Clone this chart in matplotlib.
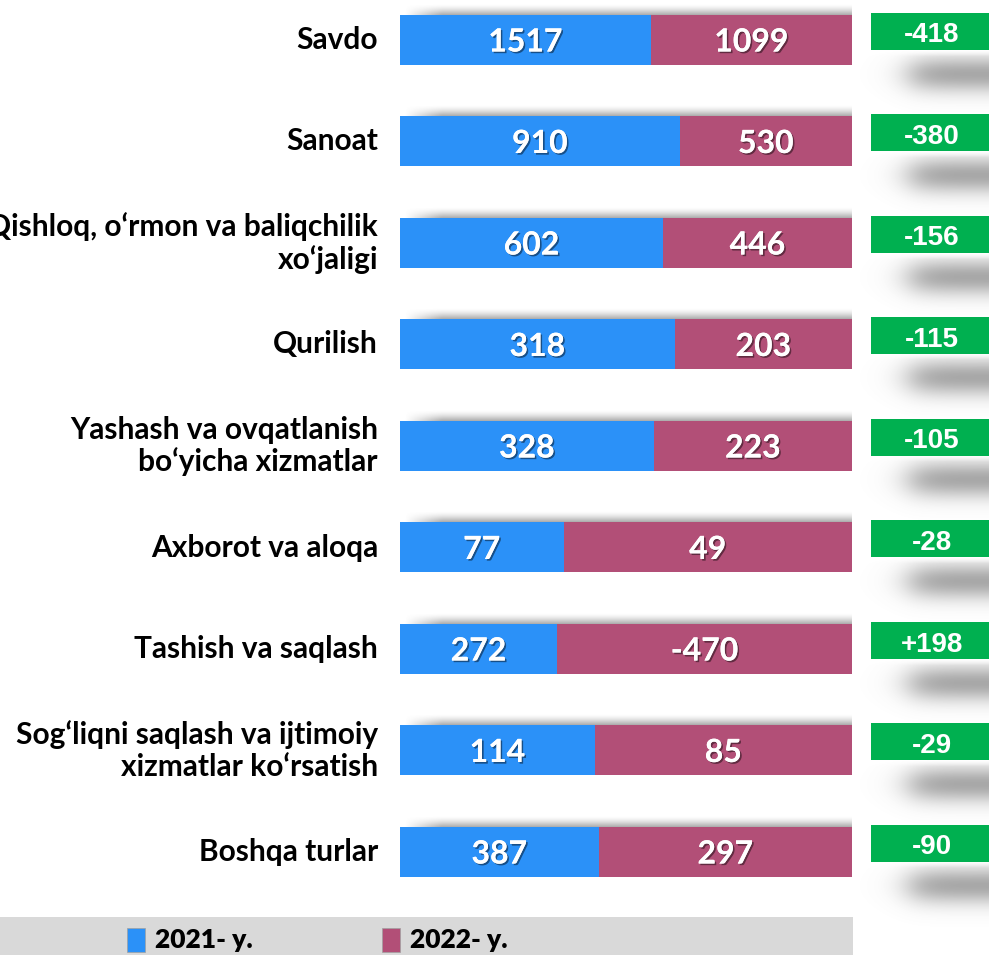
import numpy as np
import matplotlib
matplotlib.use('Agg')
import matplotlib.pyplot as plt
import matplotlib.patheffects as pe
from matplotlib.patches import Rectangle

# 데이터
categories = [
    "Savdo",
    "Sanoat",
    "Qishloq, o‘rmon va baliqchilik\nxo‘jaligi",
    "Qurilish",
    "Yashash va ovqatlanish\nbo‘yicha xizmatlar",
    "Axborot va aloqa",
    "Tashish va saqlash",
    "Sog‘liqni saqlash va ijtimoiy\nxizmatlar ko‘rsatish",
    "Boshqa turlar",
]
vals_2021 = [1517, 910, 602, 318, 328, 77, 272, 114, 387]
vals_2022 = [1099, 530, 446, 203, 223, 49, -470, 85, 297]
change_labels = ["-418", "-380", "-156", "-115", "-105", "-28", "+198", "-29", "-90"]
# 막대 분할 비율 (그림에서 측정한 2021 비중)
share_2021 = [0.555, 0.619, 0.582, 0.608, 0.562, 0.362, 0.348, 0.431, 0.440]
legend_labels = ["2021- y.", "2022- y."]

BLUE = '#2b91f8'
PINK = '#b24f77'
GREEN = '#00b050'

W, H = 989, 955
fig = plt.figure(figsize=(W / 100, H / 100), dpi=100)
ax = fig.add_axes([0, 0, 1, 1])

# 픽셀 -> 데이터 좌표 (막대 0..1 이 x=400..852 px, 행 간격 101.5 px)
x0_px, bar_w_px = 400, 452
y0_px, row_px = 40, 101.5
ax.set_xlim(-x0_px / bar_w_px, (W - x0_px) / bar_w_px)
ax.set_ylim((H - y0_px) / row_px, -y0_px / row_px)
ax.axis('off')

px = 1.0 / bar_w_px   # 1 px in x units
py = 1.0 / row_px     # 1 px in y units

n = len(categories)
ypos = np.arange(n)
s21 = np.array(share_2021)
s22 = 1 - s21
bar_h = 50 * py


def shadow_img(alpha):
    # 회색 그림자 RGBA 이미지
    img = np.zeros(alpha.shape + (4,))
    img[..., :3] = 0.45
    img[..., 3] = alpha
    return img


# 막대 위쪽 그림자 (위에서 아래로 진해짐)
t = np.linspace(0, 1, 30)[:, None]
lx = np.linspace(0, 1, 200)[None, :]
top_alpha = 0.6 * t ** 1.5 * np.clip(lx * 12, 0, 1)
for i in range(n):
    ax.imshow(shadow_img(top_alpha),
              extent=(4 * px, 1.0, i - bar_h / 2, i - bar_h / 2 - 11 * py),
              aspect='auto', zorder=1, interpolation='bilinear')

ax.barh(ypos, s21, height=bar_h, color=BLUE, zorder=2)
ax.barh(ypos, s22, left=s21, height=bar_h, color=PINK, zorder=2)

txt_fx = [pe.withSimplePatchShadow(offset=(1.2, -1.2), shadow_rgbFace='black', alpha=0.45),
          pe.Normal()]
for i in range(n):
    ax.text(s21[i] / 2, i + 2 * py, str(vals_2021[i]), ha='center', va='center',
            color='white', fontsize=23, fontweight='bold', family='Lato',
            path_effects=txt_fx, zorder=3)
    ax.text(s21[i] + s22[i] / 2, i + 2 * py, str(vals_2022[i]), ha='center', va='center',
            color='white', fontsize=23, fontweight='bold', family='Lato',
            path_effects=txt_fx, zorder=3)
    ax.text(-22 * px, i, categories[i], ha='right', va='center', color='black',
            fontsize=21.5, fontweight='bold', family='Lato', linespacing=1.15, zorder=3)

# 오른쪽 초록 박스와 그 아래 흐린 그림자
sy = np.linspace(0, 70, 100)[:, None]      # 박스 아래로 px
sx = np.linspace(860, 1000, 160)[None, :]  # px
blob_alpha = (0.62 * np.exp(-((sy - 24) ** 2) / (2 * 13.0 ** 2))
              * np.clip(sy / 6, 0, 1) / (1 + np.exp(-(sx - 910) / 10)))
for i in range(n):
    box_top = i - 27 * py
    box_h = 37 * py
    box_bot = box_top + box_h
    ax.imshow(shadow_img(blob_alpha),
              extent=(1.0 + (860 - 852) * px, 1.0 + (1000 - 852) * px, box_bot + 70 * py, box_bot),
              aspect='auto', zorder=1, interpolation='bilinear')
    ax.add_patch(Rectangle((1.0 + 19 * px, box_top), 130 * px, box_h,
                           facecolor=GREEN, edgecolor='none', zorder=2))
    ax.text(1.0 + 80 * px, box_top + box_h / 2 + 1 * py, change_labels[i], ha='center',
            va='center_baseline', color='white', fontsize=20, fontweight='bold',
            family='Liberation Sans', zorder=3)

# 범례
leg_top = (917 - y0_px) * py
ax.add_patch(Rectangle((ax.get_xlim()[0], leg_top), 853 * px, 60 * py,
                       facecolor='#d9d9d9', edgecolor='none', zorder=1))
for k, (lab, col) in enumerate(zip(legend_labels, [BLUE, PINK])):
    sq_x = (127 + 255 * k - x0_px) * px
    ax.add_patch(Rectangle((sq_x, (928 - y0_px) * py), 18 * px, 24 * py,
                           facecolor=col, edgecolor='#a0a0a0', lw=0.5, zorder=2))
    ax.text(sq_x + 28 * px, (940 - y0_px) * py, lab, ha='left', va='center', color='black',
            fontsize=19, fontweight='heavy', family='Lato', zorder=3)

fig.savefig('out.png', dpi=100)
